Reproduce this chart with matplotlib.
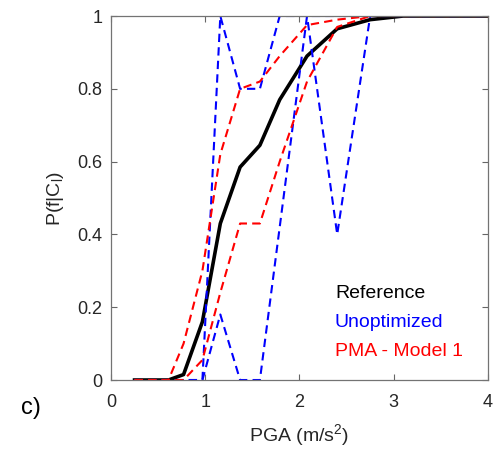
import matplotlib
matplotlib.use("Agg")
import matplotlib.pyplot as plt

plt.rcParams['font.family'] = ['Liberation Sans', 'DejaVu Sans']
plt.rcParams['mathtext.fontset'] = 'custom'
plt.rcParams['mathtext.rm'] = 'Liberation Sans'

# PGA grid (m/s^2)
pga = [0.25, 0.43, 0.61, 0.77, 0.97, 1.16, 1.37, 1.58, 1.79, 2.08, 2.40, 2.75, 3.1, 3.5, 4.0]

reference = [0, 0, 0, 0.015, 0.16, 0.43, 0.585, 0.645, 0.77, 0.89, 0.965, 0.99, 1.0, 1.0, 1.0]

unopt_1 = [0, 0, 0, 0, 0, 1.0, 0.80, 0.80, 1.0, 1.0, 0.40, 1.0, 1.0, 1.0, 1.0]
unopt_2 = [0, 0, 0, 0, 0, 0.18, 0, 0, 0.42, 1.0, 1.0, 1.0, 1.0, 1.0, 1.0]

pma_1 = [0, 0, 0, 0.10, 0.30, 0.62, 0.80, 0.82, 0.89, 0.975, 0.99, 1.0, 1.0, 1.0, 1.0]
pma_2 = [0, 0, 0, 0, 0.055, 0.24, 0.43, 0.43, 0.60, 0.82, 0.97, 1.0, 1.0, 1.0, 1.0]

xticks = [0, 1, 2, 3, 4]
yticks = [0, 0.2, 0.4, 0.6, 0.8, 1]

fig = plt.figure(figsize=(4.97, 4.51), dpi=100)
ax = fig.add_axes([0.2233, 0.1574, 0.7586, 0.8071])

ax.plot(pga, reference, color='black', lw=2.6)
for u in [unopt_1, unopt_2]:
    ax.plot(pga, u, color='blue', lw=1.5, ls='--', dashes=(4, 2.5))
for p in [pma_1, pma_2]:
    ax.plot(pga, p, color='red', lw=1.5, ls='--', dashes=(4, 2.5))

ax.set_xlim(0, 4)
ax.set_ylim(0, 1)
ax.set_xticks(xticks)
ax.set_yticks(yticks)
ax.set_yticklabels(['0', '0.2', '0.4', '0.6', '0.8', '1'])
ax.tick_params(direction='in', length=4, width=0.8, color='0.4', labelsize=13,
               labelcolor='#262626', top=True, right=True)
ax.tick_params(axis='x', pad=10)
ax.tick_params(axis='y', pad=6)
for s in ax.spines.values():
    s.set_color('0.45')
    s.set_linewidth(0.9)

ax.set_xlabel('PGA (m/s$^2$)', fontsize=14, color='#262626', labelpad=8)
ax.set_ylabel('P(f|C$_\\mathregular{l}$)', fontsize=14, color='#262626', labelpad=8)

ax.text(0.594, 0.239, 'Reference', color='black', fontsize=14, transform=ax.transAxes, va='center')
ax.text(0.594, 0.159, 'Unoptimized', color='blue', fontsize=14, transform=ax.transAxes, va='center')
ax.text(0.594, 0.077, 'PMA - Model 1', color='red', fontsize=14, transform=ax.transAxes, va='center')

fig.text(0.062, 0.095, 'c)', fontsize=17, color='black', ha='center', va='center')

fig.savefig('out.png', dpi=100)
